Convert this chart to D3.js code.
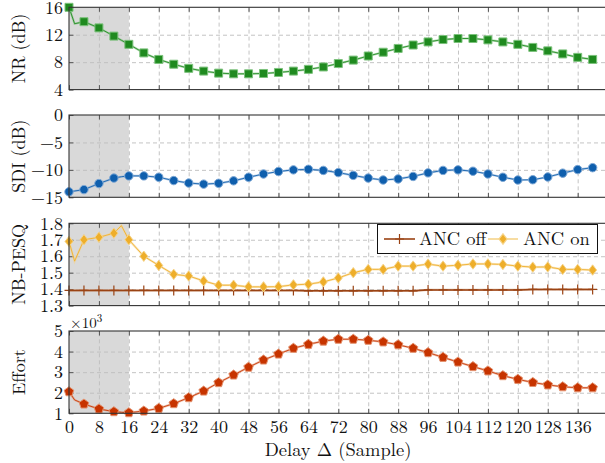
<!DOCTYPE html>
<html><head><meta charset="utf-8">
<script src="https://cdn.jsdelivr.net/npm/d3@7"></script>
<style>
html,body{margin:0;padding:0;background:#fff;overflow:hidden}
svg{display:block}
text{font-family:"Latin Modern Roman","CMU Serif","Liberation Serif",serif;fill:#111}
</style></head>
<body>
<svg id="chart" width="605" height="463"></svg>
<script>
// ---- data ----
const delays = [0,1.5,4,8,12,14,16,20,24,28,32,36,40,44,48,52,56,60,64,68,72,76,80,84,88,92,96,100,104,108,112,116,120,124,128,132,136,140];
const nr = [16,13.6,13.9,13.0,11.8,11.2,10.6,9.35,8.4,7.7,7.1,6.7,6.4,6.3,6.3,6.35,6.5,6.7,6.95,7.3,7.8,8.3,8.9,9.45,10.0,10.5,10.95,11.3,11.45,11.45,11.25,10.95,10.6,10.15,9.65,9.2,8.7,8.4];
const sdi = [-14,-13.85,-13.6,-12.5,-11.5,-11.25,-11.1,-11.1,-11.35,-11.95,-12.4,-12.6,-12.45,-12.0,-11.35,-10.75,-10.3,-10.0,-9.9,-10.1,-10.5,-11.0,-11.5,-11.85,-11.65,-11.2,-10.55,-10.1,-10.0,-10.25,-10.75,-11.35,-11.85,-11.8,-11.3,-10.6,-9.95,-9.6];
const pesqOn = [1.69,1.57,1.70,1.715,1.74,1.786,1.70,1.60,1.544,1.49,1.48,1.45,1.424,1.424,1.414,1.414,1.415,1.426,1.43,1.444,1.468,1.50,1.52,1.52,1.54,1.54,1.552,1.54,1.545,1.553,1.553,1.55,1.54,1.534,1.535,1.52,1.52,1.516];
const pesqOff = [1.392,1.392,1.392,1.392,1.392,1.392,1.392,1.392,1.392,1.392,1.392,1.392,1.392,1.392,1.392,1.392,1.392,1.392,1.39,1.39,1.39,1.39,1.39,1.39,1.39,1.39,1.395,1.395,1.395,1.395,1.395,1.395,1.395,1.398,1.398,1.398,1.398,1.398];
const effort = [2.05,1.65,1.45,1.21,1.08,1.05,1.03,1.11,1.24,1.47,1.76,2.08,2.49,2.86,3.24,3.59,3.88,4.16,4.35,4.51,4.6,4.6,4.55,4.47,4.33,4.16,3.95,3.72,3.49,3.27,3.06,2.83,2.65,2.5,2.38,2.29,2.24,2.24];
const xTicks = [0,8,16,24,32,40,48,56,64,72,80,88,96,104,112,120,128,136];
const nrTicks = [4,8,12,16];
const sdiTicks = [-15,-10,-5,0];
const pesqTicks = [1.3,1.4,1.5,1.6,1.7,1.8];
const effortTicks = [1,2,3,4,5];
const shadeRange = [0,16];
const legendLabels = ["ANC off","ANC on"];
const yLabels = ["NR (dB)","SDI (dB)","NB-PESQ","Effort"];
const xLabel = "Delay \u0394 (Sample)";

// ---- layout ----
const svg = d3.select("#chart");
const left = 69, right = 607.6, panelH = 82.3;
const tops = [7.3, 115, 223.3, 331];
const x = d3.scaleLinear().domain([0,144]).range([left,right]);

const COL = {
  green:"#1f8a1f", greenL:"#7cc27c",
  blue:"#0f5fad", blueL:"#7fa9d6",
  yel:"#eeae2a", yelL:"#f6d48a",
  brown:"#9a4314", brownL:"#c98a63",
  red:"#c73400", redL:"#e49370"
};

function pentagon(r){
  const pts=[];
  for(let i=0;i<5;i++){const a=-Math.PI/2+i*2*Math.PI/5;pts.push([r*Math.cos(a),r*Math.sin(a)]);}
  return "M"+pts.map(p=>p.join(",")).join("L")+"Z";
}
const shapes = {
  square: "M-4,-4H4V4H-4Z",
  circle: d3.symbol(d3.symbolCircle, 56)(),
  diamond: "M0,-5.2L4,0L0,5.2L-4,0Z",
  plus: "M-4.5,0H4.5M0,-5V5",
  pentagon: pentagon(5)
};

const panels = [
  {label:yLabels[0], domain:[4,16], ticks:nrTicks, fmt:d3.format("d"),
   series:[{vals:nr, col:COL.green, light:COL.greenL, shape:"square"}]},
  {label:yLabels[1], domain:[-15,0], ticks:sdiTicks, fmt:d3.format("d"),
   series:[{vals:sdi, col:COL.blue, light:COL.blueL, shape:"circle"}]},
  {label:yLabels[2], domain:[1.3,1.8], ticks:pesqTicks, fmt:d3.format(".1f"),
   series:[{vals:pesqOff, col:COL.brown, light:COL.brownL, shape:"plus", solidLine:true},
           {vals:pesqOn, col:COL.yel, light:COL.yelL, shape:"diamond"}]},
  {label:yLabels[3], domain:[1,5], ticks:effortTicks, fmt:d3.format("d"),
   series:[{vals:effort, col:COL.red, light:COL.redL, shape:"pentagon"}]}
];

panels.forEach((p,pi)=>{
  const top = tops[pi], bot = top+panelH;
  const y = d3.scaleLinear().domain(p.domain).range([bot,top]);
  const g = svg.append("g");

  // shaded region
  g.append("rect").attr("x",x(shadeRange[0])).attr("y",top)
    .attr("width",x(shadeRange[1])-x(shadeRange[0])).attr("height",panelH)
    .attr("fill","#d9d9d9");

  // grid
  g.append("g").attr("transform",`translate(0,${bot})`)
    .call(d3.axisBottom(x).tickValues(xTicks.filter(t=>t>0)).tickSize(-panelH).tickFormat(""))
    .call(a=>{a.select(".domain").remove();a.selectAll("line").attr("stroke","#bdbdbd").attr("stroke-dasharray","4,3").attr("stroke-width",0.9);});
  g.append("g").attr("transform",`translate(${left},0)`)
    .call(d3.axisLeft(y).tickValues(p.ticks.filter(t=>t>p.domain[0]&&t<p.domain[1])).tickSize(-(right-left)).tickFormat(""))
    .call(a=>{a.select(".domain").remove();a.selectAll("line").attr("stroke","#bdbdbd").attr("stroke-dasharray","4,3").attr("stroke-width",0.9);});

  // tick marks (inward)
  const tickStyle = a=>{a.select(".domain").remove();a.selectAll("line").attr("stroke","#555").attr("stroke-width",1);};
  g.append("g").attr("transform",`translate(0,${bot})`)
    .call(d3.axisBottom(x).tickValues(xTicks).tickSize(-4.5).tickFormat("")).call(tickStyle);
  g.append("g").attr("transform",`translate(0,${top})`)
    .call(d3.axisTop(x).tickValues(xTicks).tickSize(-4.5).tickFormat("")).call(tickStyle);
  g.append("g").attr("transform",`translate(${left},0)`)
    .call(d3.axisLeft(y).tickValues(p.ticks).tickSize(-4.5).tickFormat("")).call(tickStyle);

  // y tick labels
  g.append("g").attr("transform",`translate(${left},0)`)
    .call(d3.axisLeft(y).tickValues(p.ticks).tickSize(0).tickPadding(6).tickFormat(p.fmt))
    .call(a=>{a.select(".domain").remove();a.selectAll("text").attr("font-size","18px").attr("fill","#111")
      .attr("font-family",'"Latin Modern Roman","CMU Serif","Liberation Serif",serif');});

  // series
  p.series.forEach(s=>{
    const pts = delays.map((d,i)=>({d, v:s.vals[i]}));
    const line = d3.line().x(d=>x(d.d)).y(d=>y(d.v));
    g.append("path").datum(pts).attr("d",line).attr("fill","none")
      .attr("stroke",s.light).attr("stroke-width",2.2).attr("opacity",0.6);
    g.append("path").datum(pts).attr("d",line).attr("fill","none")
      .attr("stroke",s.solidLine?s.col:s.col).attr("stroke-width",s.solidLine?1.4:1).attr("opacity",s.solidLine?1:0.85);
    const mk = pts.filter(d=>d.d%4===0);
    g.selectAll(null).data(mk).join("path")
      .attr("transform",d=>`translate(${x(d.d)},${y(d.v)})`)
      .attr("d",shapes[s.shape])
      .attr("fill",s.shape==="plus"?"none":s.col)
      .attr("stroke",s.shape==="plus"?s.col:s.light)
      .attr("stroke-width",s.shape==="plus"?1.2:1);
  });

  // frame
  g.append("rect").attr("x",left).attr("y",top).attr("width",right-left).attr("height",panelH)
    .attr("fill","none").attr("stroke","#333").attr("stroke-width",1.1);

  // y label
  g.append("text").attr("transform",`translate(25,${top+panelH/2}) rotate(-90)`)
    .attr("text-anchor","middle").attr("font-size","18px").text(p.label);

  // x tick labels on bottom panel
  if(pi===panels.length-1){
    g.append("g").attr("transform",`translate(0,${bot})`)
      .call(d3.axisBottom(x).tickValues(xTicks).tickSize(0).tickPadding(7).tickFormat(d3.format("d")))
      .call(a=>{a.select(".domain").remove();a.selectAll("text").attr("font-size","18px").attr("fill","#111")
        .attr("font-family",'"Latin Modern Roman","CMU Serif","Liberation Serif",serif');});
    const sc = g.append("text").attr("x",left+1).attr("y",top-3).attr("font-size","15px");
    sc.append("tspan").text("\u00d710");
    sc.append("tspan").attr("dy",-6).attr("font-size","11px").text("3");
  }

  // legend in PESQ panel
  if(pi===2){
    const lg = svg.append("g");
    lg.append("rect").attr("x",377.5).attr("y",224.5).attr("width",220).attr("height",29)
      .attr("fill","#fff").attr("stroke","#111").attr("stroke-width",1);
    const ly = 239;
    const items = [
      {x0:384, x1:415, label:legendLabels[0], s:p.series[0], tx:419},
      {x0:488, x1:518, label:legendLabels[1], s:p.series[1], tx:523}
    ];
    items.forEach(it=>{
      lg.append("line").attr("x1",it.x0).attr("x2",it.x1).attr("y1",ly).attr("y2",ly)
        .attr("stroke",it.s.shape==="plus"?it.s.col:it.s.light).attr("stroke-width",1.6);
      lg.append("path").attr("transform",`translate(${(it.x0+it.x1)/2},${ly})`)
        .attr("d",shapes[it.s.shape])
        .attr("fill",it.s.shape==="plus"?"none":it.s.col)
        .attr("stroke",it.s.shape==="plus"?it.s.col:it.s.light).attr("stroke-width",1.2);
      lg.append("text").attr("x",it.tx).attr("y",ly+6).attr("font-size","18.5px").text(it.label);
    });
  }
});

// x axis label
svg.append("text").attr("x",338).attr("y",456).attr("text-anchor","middle")
  .attr("font-size","18.5px").text(xLabel);
</script>
</body></html>
